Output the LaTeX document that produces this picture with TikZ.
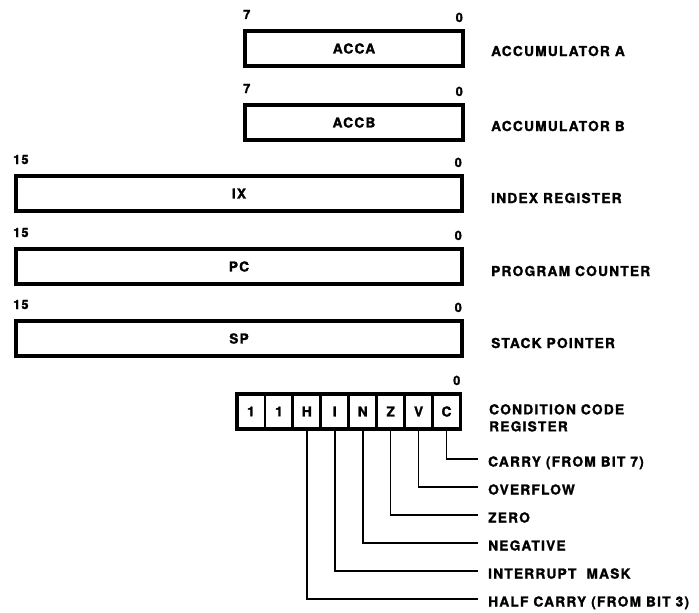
\documentclass[tikz,border=0pt]{standalone}
\usepackage{fontspec}
\setmainfont{TeX Gyre Heros}[LetterSpace=9, BoldFeatures={FakeBold=1.5}]
\newcommand\lblfont{\fontsize{13.7}{17}\selectfont\bfseries}
\newcommand\bitfont{\fontsize{12.8}{15}\selectfont\bfseries}
\begin{document}
\begin{tikzpicture}[x=1pt,y=-1pt,
  reg/.style={draw, line width=3.5pt, inner sep=0pt, outer sep=0pt, minimum height=35pt, anchor=north west, font=\lblfont},
  cell/.style={draw, line width=2.8pt, inner sep=0pt, outer sep=0pt, minimum height=35pt, minimum width=27.94pt, anchor=north west, font=\lblfont},
  bitl/.style={font=\bitfont, inner sep=0pt, anchor=base west},
  bitr/.style={font=\bitfont, inner sep=0pt, anchor=base east},
  sidelbl/.style={font=\lblfont, inner sep=0pt, anchor=west, text height=10pt, text depth=0pt},
  conn/.style={line width=1.6pt, shorten >=10pt}]
\useasboundingbox[fill=white] (0,0) rectangle (699,613);

% registers
\node[reg, minimum width=218pt] (acca) at (245,31) {ACCA};
\node[reg, minimum width=218pt] (accb) at (245,105) {ACCB};
\node[reg, minimum width=446pt] (ix) at (16,176) {IX};
\node[reg, minimum width=446pt] (pc) at (16,249) {PC};
\node[reg, minimum width=446pt] (sp) at (16,321) {SP};

% bit numbers
\node[bitl] (acca7) at ([xshift=-2pt,yshift=12pt]acca.north west) {7};
\node[bitr] (acca0) at ([yshift=9pt]acca.north east) {0};
\node[bitl] (accb7) at ([xshift=-2pt,yshift=12pt]accb.north west) {7};
\node[bitr] (accb0) at ([yshift=9pt]accb.north east) {0};
\node[bitl] (ix15) at ([xshift=-3pt,yshift=12pt]ix.north west) {15};
\node[bitr] (ix0) at ([yshift=9pt]ix.north east) {0};
\node[bitl] (pc15) at ([xshift=-3pt,yshift=12pt]pc.north west) {15};
\node[bitr] (pc0) at ([yshift=9pt]pc.north east) {0};
\node[bitl] (sp15) at ([xshift=-3pt,yshift=12pt]sp.north west) {15};
\node[bitr] (sp0) at ([yshift=9pt]sp.north east) {0};

% condition code register
\foreach \t [count=\i] in {1,1,H,I,N,Z,V,C}
  \node[cell] (c\i) at ({237+27.94*(\i-1)},394) {\t};
\draw[line width=3.5pt] (c1.north west) rectangle (c8.south east);
\node[bitr] (ccr0) at ([yshift=9pt]c8.north east) {0};

% side labels
\node[sidelbl] (la) at (491,51) {ACCUMULATOR A};
\node[sidelbl] (lb) at (491,126) {ACCUMULATOR B};
\node[sidelbl] (lx) at (491,198) {INDEX REGISTER};
\node[sidelbl] (lp) at (491,271) {PROGRAM COUNTER};
\node[sidelbl] (ls) at (491,343) {STACK POINTER};
\node[font=\lblfont, inner sep=0pt, anchor=north west, align=left] (lcc) at (489,404) {CONDITION CODE\\REGISTER};

% flag labels
\node[sidelbl] (fc) at (488,461.5) {CARRY (FROM BIT 7)};
\node[sidelbl] (fv) at (488,489.5) {OVERFLOW};
\node[sidelbl] (fz) at (488,517.5) {ZERO};
\node[sidelbl] (fn) at (488,545.5) {NEGATIVE};
\node[sidelbl] (fi) at (488,573.5) {INTERRUPT\ \ MASK};
\node[sidelbl] (fh) at (488,601.5) {HALF CARRY (FROM BIT 3)};

% connectors
\draw[conn] (c8.south) |- ([yshift=2.5pt]fc.west);
\draw[conn] (c7.south) |- ([yshift=2.5pt]fv.west);
\draw[conn] (c6.south) |- ([yshift=2.5pt]fz.west);
\draw[conn] (c5.south) |- ([yshift=2.5pt]fn.west);
\draw[conn] (c4.south) |- ([yshift=2.5pt]fi.west);
\draw[conn] (c3.south) |- ([yshift=2.5pt]fh.west);
\end{tikzpicture}
\end{document}
